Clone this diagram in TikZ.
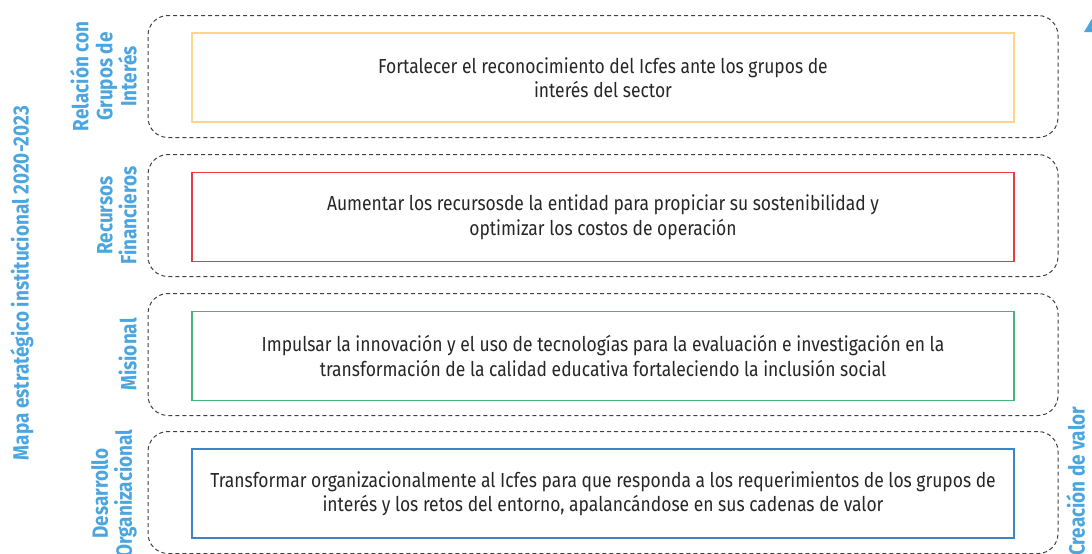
\documentclass[tikz,border=0pt]{standalone}
\usepackage{fontspec}
\setmainfont{Fira Sans}[FakeStretch=0.86]
\definecolor{lblue}{HTML}{4BA5DF}
\definecolor{cyel}{HTML}{FDD68A}
\definecolor{cred}{HTML}{E63A45}
\definecolor{cgreen}{HTML}{45B37A}
\definecolor{cblue}{HTML}{3B86C6}
\begin{document}
\begin{tikzpicture}[x=1pt,y=-1pt,
  outer/.style={draw=black!75, dash pattern=on 4pt off 3pt, rounded corners=20pt, line width=1pt, minimum width=910pt, minimum height=122pt, inner sep=0pt},
  inner/.style={line width=1.3pt, minimum width=822pt, minimum height=89pt, inner sep=0pt, align=center, text=black!85, font=\fontsize{20.3}{24.5}\selectfont},
  lab/.style={rotate=90, font=\bfseries\fontsize{22}{24}\selectfont, text=lblue, align=center, inner sep=0pt}]
\useasboundingbox (0,0) rectangle (1092,554);
\node[outer] (o1) at (603,76.5) {};
\node[outer] (o2) at (603,215.5) {};
\node[outer] (o3) at (603,354.5) {};
\node[outer] (o4) at (603,492.5) {};
\node[inner, draw=cyel] (i1) at (603,77.5) {Fortalecer el reconocimiento del Icfes ante los grupos de\\interés del sector};
\node[inner, draw=cred] (i2) at (603,217) {Aumentar los recursosde la entidad para propiciar su sostenibilidad y\\optimizar los costos de operación};
\node[inner, draw=cgreen] (i3) at (603,356) {Impulsar la innovación y el uso de tecnologías para la evaluación e investigación en la\\transformación de la calidad educativa fortaleciendo la inclusión social};
\node[inner, draw=cblue] (i4) at (603,493.5) {Transformar organizacionalmente al Icfes para que responda a los requerimientos de los grupos de\\interés y los retos del entorno, apalancándose en sus cadenas de valor};
\node[lab, anchor=south] (l1) at (137,76.5) {Relación con\\Grupos de\\Interés};
\node[lab, anchor=south] (l2) at (137,215.5) {Recursos\\Financieros};
\node[lab, anchor=south] (l3) at (137,354.5) {Misional};
\node[lab, anchor=south] (l4) at (137,493.5) {Desarrollo\\Organizacional};
\node[lab] (t) at (22,283) {Mapa estratégico institucional 2020-2023};
\node[lab, anchor=north west] (cv) at (1066,556) {Creación de valor};
\fill[lblue] (1093,17) -- (1084,32) -- (1102,32) -- cycle;
\end{tikzpicture}
\end{document}
